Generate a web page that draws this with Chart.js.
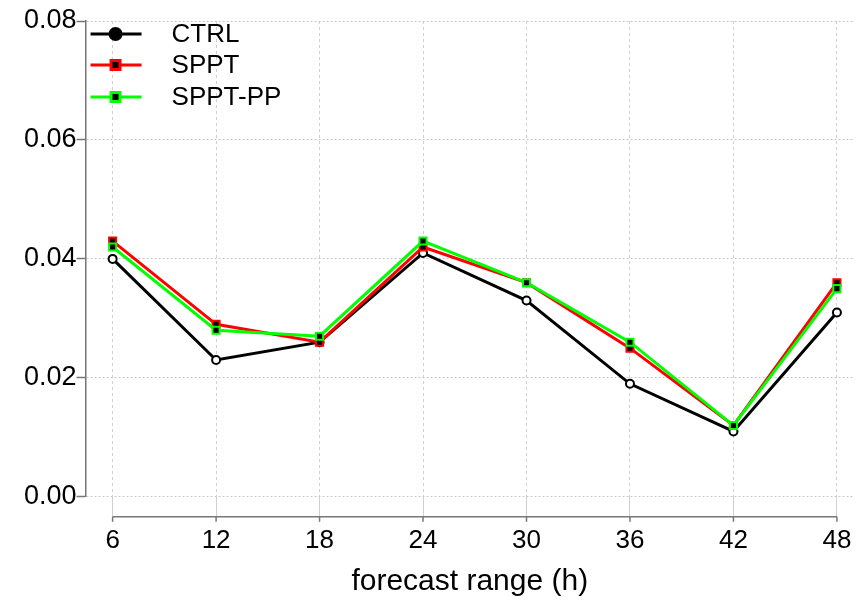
<!DOCTYPE html>
<html>
<head>
<meta charset="utf-8">
<script src="https://cdn.jsdelivr.net/npm/chart.js@4.4.0/dist/chart.umd.min.js"></script>
<style>
  html, body { margin: 0; padding: 0; background: #fff; }
  #wrap { width: 861px; height: 600px; }
</style>
</head>
<body>
<div id="wrap"><canvas id="c"></canvas></div>
<script>
// forecast range (h)
const hours = [6, 12, 18, 24, 30, 36, 42, 48];
const yTicks = [0, 0.02, 0.04, 0.06, 0.08];

const ctrl   = [0.040, 0.023, 0.026, 0.041, 0.033, 0.019, 0.011, 0.031];
const sppt   = [0.043, 0.029, 0.026, 0.042, 0.036, 0.025, 0.012, 0.036];
const spptPP = [0.042, 0.028, 0.027, 0.043, 0.036, 0.026, 0.012, 0.035];

const FONT = 'Liberation Sans, Arial, sans-serif';

function toPoints(vals) {
    return vals.map((v, i) => ({ x: hours[i], y: v }));
}

// x axis drawn below the plot, plus the legend inside the top-left corner
const extras = {
    id: 'extras',
    afterDraw(chart) {
        const ctx = chart.ctx;
        const xs = chart.scales.x;
        const y0 = chart.chartArea.bottom + 20;
        ctx.save();
        ctx.strokeStyle = '#777';
        ctx.lineWidth = 1.5;
        ctx.beginPath();
        ctx.moveTo(xs.getPixelForValue(hours[0]), y0);
        ctx.lineTo(xs.getPixelForValue(hours[hours.length - 1]), y0);
        hours.forEach(h => {
            const px = xs.getPixelForValue(h);
            ctx.moveTo(px, y0);
            ctx.lineTo(px, y0 + 5);
        });
        ctx.stroke();

        // legend
        const left = chart.chartArea.left + 5;
        const rows = [34, 65, 97];
        chart.data.datasets.forEach((ds, i) => {
            const y = rows[i];
            ctx.strokeStyle = ds.borderColor;
            ctx.lineWidth = 3;
            ctx.beginPath();
            ctx.moveTo(left, y);
            ctx.lineTo(left + 51, y);
            ctx.stroke();
            const mx = left + 25;
            if (ds.pointStyle === 'circle') {
                ctx.fillStyle = '#000';
                ctx.beginPath();
                ctx.arc(mx, y, 7, 0, Math.PI * 2);
                ctx.fill();
            } else {
                ctx.fillStyle = ds.borderColor;
                ctx.fillRect(mx - 6, y - 6, 12, 12);
                ctx.fillStyle = '#000';
                ctx.fillRect(mx - 3, y - 3, 6, 6);
            }
            ctx.fillStyle = '#000';
            ctx.font = '26px ' + FONT;
            ctx.textBaseline = 'middle';
            ctx.textAlign = 'left';
            ctx.fillText(ds.label, left + 81, y + 1);
        });
        ctx.restore();
    }
};

new Chart(document.getElementById('c'), {
    type: 'line',
    data: {
        datasets: [
            {
                label: 'CTRL',
                data: toPoints(ctrl),
                borderColor: '#000000',
                borderWidth: 3,
                pointStyle: 'circle',
                pointRadius: 4,
                pointBorderWidth: 2,
                pointBackgroundColor: '#ffffff',
                pointBorderColor: '#000000',
                order: 3
            },
            {
                label: 'SPPT',
                data: toPoints(sppt),
                borderColor: '#ff0000',
                borderWidth: 3,
                pointStyle: 'rect',
                pointRadius: 5,
                pointBorderWidth: 2,
                pointBackgroundColor: '#000000',
                pointBorderColor: '#ff0000',
                order: 2
            },
            {
                label: 'SPPT-PP',
                data: toPoints(spptPP),
                borderColor: '#00ff00',
                borderWidth: 3,
                pointStyle: 'rect',
                pointRadius: 5,
                pointBorderWidth: 2,
                pointBackgroundColor: '#000000',
                pointBorderColor: '#00ff00',
                order: 1
            }
        ]
    },
    options: {
        responsive: true,
        maintainAspectRatio: false,
        animation: false,
        layout: { padding: { top: 21, right: 0, left: 24, bottom: 0 } },
        plugins: {
            legend: { display: false },
            tooltip: { enabled: false }
        },
        scales: {
            x: {
                type: 'linear',
                min: 4.43,
                max: 48.99,
                afterBuildTicks: axis => { axis.ticks = hours.map(v => ({ value: v })); },
                border: { display: false, dash: [3, 3] },
                grid: {
                    color: '#d0d0d0',
                    tickLength: 20
                },
                ticks: {
                    color: '#000',
                    padding: 8,
                    font: { family: FONT, size: 26 },
                    maxRotation: 0
                },
                title: {
                    display: true,
                    text: 'forecast range (h)',
                    color: '#000',
                    font: { family: FONT, size: 30 },
                    padding: { top: 0, bottom: 0 }
                }
            },
            y: {
                min: 0,
                max: 0.08,
                afterBuildTicks: axis => { axis.ticks = yTicks.map(v => ({ value: v })); },
                border: { display: true, color: '#777', width: 1.5, dash: [2, 2] },
                grid: {
                    color: '#c8c8c8',
                    tickLength: 9,
                    tickColor: '#777',
                    tickBorderDash: [],
                    tickWidth: 1.5
                },
                ticks: {
                    color: '#000',
                    padding: 0,
                    font: { family: FONT, size: 27 },
                    callback: v => v.toFixed(2)
                }
            }
        }
    },
    plugins: [extras]
});
</script>
</body>
</html>
